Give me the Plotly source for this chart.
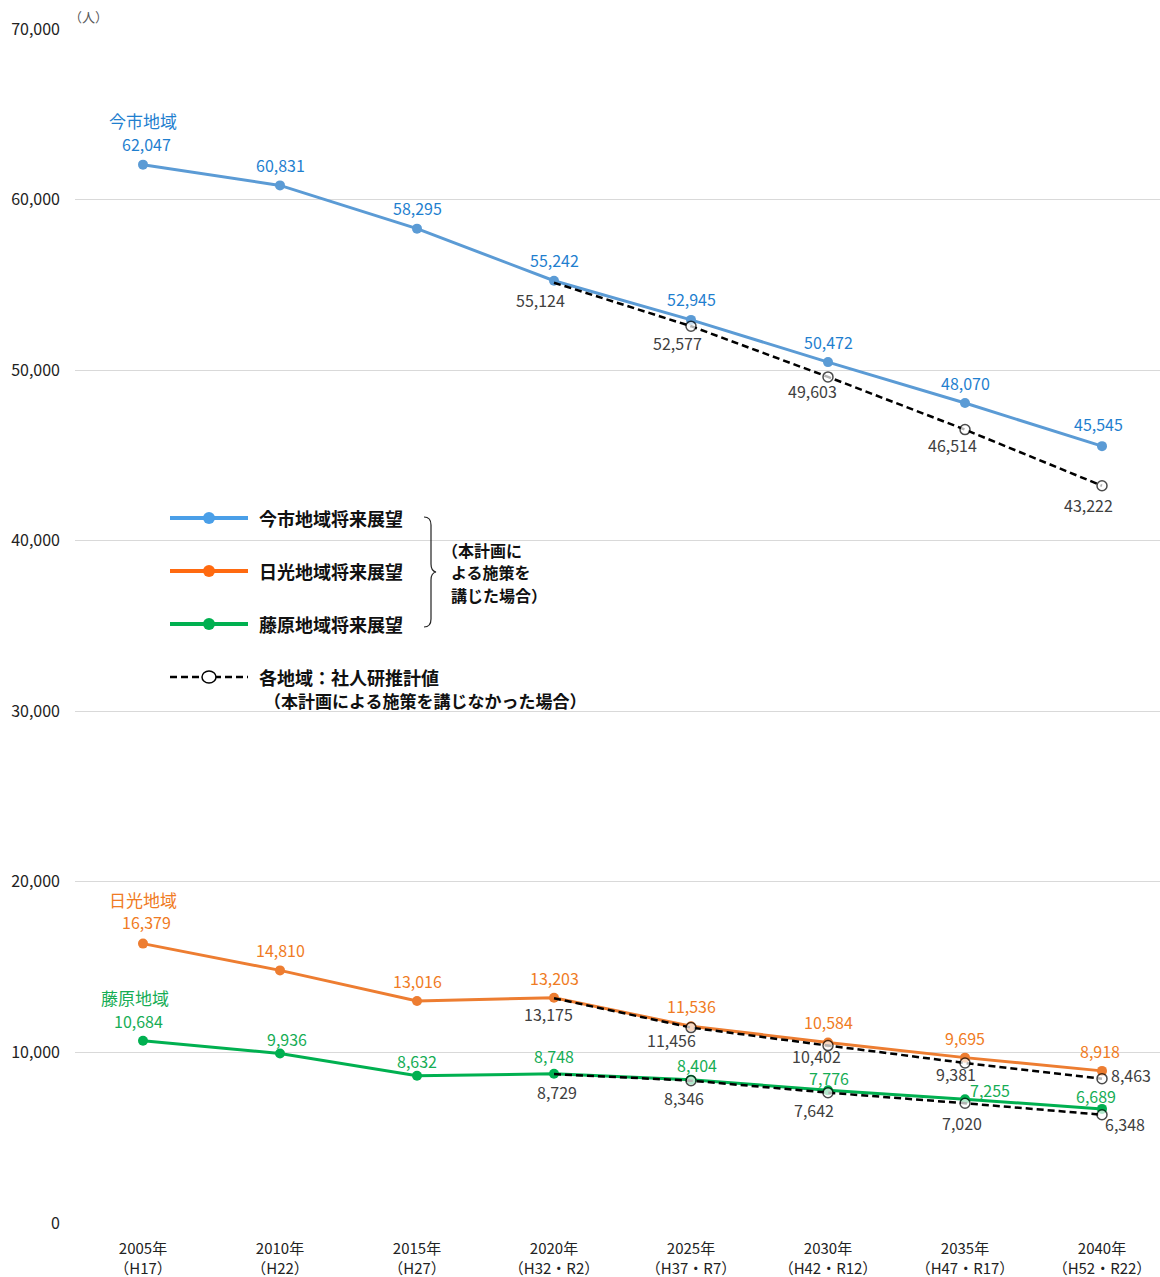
import plotly.graph_objects as go

# ---------------- data ----------------
years = ["2005年", "2010年", "2015年", "2020年", "2025年", "2030年", "2035年", "2040年"]
eras = ["（H17）", "（H22）", "（H27）", "（H32・R2）", "（H37・R7）", "（H42・R12）", "（H47・R17）", "（H52・R22）"]

imaichi = [62047, 60831, 58295, 55242, 52945, 50472, 48070, 45545]
nikko = [16379, 14810, 13016, 13203, 11536, 10584, 9695, 8918]
fujiwara = [10684, 9936, 8632, 8748, 8404, 7776, 7255, 6689]

# 社人研推計値 (2020年〜2040年)
imaichi_ipss = [55124, 52577, 49603, 46514, 43222]
nikko_ipss = [13175, 11456, 10402, 9381, 8463]
fujiwara_ipss = [8729, 8346, 7642, 7020, 6348]

region_names = ["今市地域", "日光地域", "藤原地域"]
legend_names = ["今市地域将来展望", "日光地域将来展望", "藤原地域将来展望"]
ipss_legend = "各地域：社人研推計値"
ipss_legend2 = "（本計画による施策を講じなかった場合）"
brace_text = ["（本計画に", "よる施策を", "講じた場合）"]
y_ticks = [0, 10000, 20000, 30000, 40000, 50000, 60000, 70000]

# ---------------- styles / positions ----------------
FONT = "Noto Sans CJK JP"
line_cols = ["#5B9BD5", "#ED7D31", "#00B050"]
text_cols = ["#1F7FCF", "#F07B23", "#16AD55"]
legend_cols = ["#4A9FE8", "#FF6A10", "#00B050"]
gray_txt = "#404040"

# label offsets in pixels (dx, dy up)
solid_off = [
    [(3, 21), (0, 20), (0, 21), (0, 21), (0, 21), (0, 20), (0, 20), (-4, 22)],
    [(3, 22), (0, 20), (0, 20), (0, 20), (0, 20), (0, 20), (0, 20), (-2, 20)],
    [(-5, 20), (7, 15), (0, 15), (0, 18), (6, 15), (1, 12), (25, 9), (-6, 13)],
]
ipss_off = [
    [(-14, -17), (-14, -17), (-16, -14), (-13, -15), (-14, -19)],
    [(-6, -16), (-20, -12), (-12, -10), (-9, -11), (29, 4)],
    [(3, -18), (-7, -17), (-14, -17), (-3, -20), (23, -9)],
]
name_off = [(0, 44), (0, 44), (-8, 43)]

W, H = 1160, 1277
L, R, T, B = 75, 0, 29, 54
PW, PH = W - L - R, H - T - B


def xp(X):
    return (X - L) / PW


def yp(Y):
    return (H - B - Y) / PH


xs = list(range(len(years)))
solids = [imaichi, nikko, fujiwara]
ipss = [imaichi_ipss, nikko_ipss, fujiwara_ipss]
ipss_x = xs[3:]

fig = go.Figure()

for i, s in enumerate(solids):
    fig.add_trace(go.Scatter(
        x=xs, y=s, mode="lines+markers", name=legend_names[i],
        line=dict(color=line_cols[i], width=3),
        marker=dict(color=line_cols[i], size=10),
        showlegend=False, hoverinfo="skip"))

for i, s in enumerate(ipss):
    fig.add_trace(go.Scatter(
        x=ipss_x, y=s, mode="lines+markers", name=ipss_legend,
        line=dict(color="black", width=2.5, dash="7px,4px"),
        marker=dict(color="white", size=[0] + [10] * (len(s) - 1),
                    line=dict(color="black", width=1.5)),
        showlegend=False, hoverinfo="skip"))

ann = []
for i, s in enumerate(solids):
    for j, v in enumerate(s):
        dx, dy = solid_off[i][j]
        ann.append(dict(x=xs[j], y=v, text=f"{v:,}", showarrow=False,
                        xshift=dx, yshift=dy, xanchor="center", yanchor="middle",
                        font=dict(family=FONT, size=16, color=text_cols[i])))
    dx, dy = name_off[i]
    ann.append(dict(x=xs[0], y=s[0], text=region_names[i], showarrow=False,
                    xshift=dx, yshift=dy, xanchor="center", yanchor="middle",
                    font=dict(family=FONT, size=17, color=text_cols[i])))

for i, s in enumerate(ipss):
    for j, v in enumerate(s):
        dx, dy = ipss_off[i][j]
        ann.append(dict(x=ipss_x[j], y=v, text=f"{v:,}", showarrow=False,
                        xshift=dx, yshift=dy, xanchor="center", yanchor="middle",
                        font=dict(family=FONT, size=16, color=gray_txt)))

# unit label
ann.append(dict(x=xp(67), y=yp(17), xref="paper", yref="paper", text="（人）",
                showarrow=False, xanchor="left", yanchor="middle",
                font=dict(family=FONT, size=13, color="#595959")))

# ---------------- custom legend ----------------
shapes = []
leg_y = [518, 571, 624]
for i, name in enumerate(legend_names):
    shapes.append(dict(type="line", xref="paper", yref="paper",
                       x0=xp(170), x1=xp(248), y0=yp(leg_y[i]), y1=yp(leg_y[i]),
                       line=dict(color=legend_cols[i], width=4)))
    shapes.append(dict(type="circle", xref="paper", yref="paper",
                       xsizemode="pixel", ysizemode="pixel",
                       xanchor=xp(209), yanchor=yp(leg_y[i]),
                       x0=-6, x1=6, y0=-6, y1=6,
                       fillcolor=legend_cols[i], line=dict(color=legend_cols[i], width=0)))
    ann.append(dict(x=xp(257), y=yp(leg_y[i]), xref="paper", yref="paper",
                    text=f"<b>{name}</b>",
                    showarrow=False, xanchor="left", yanchor="middle",
                    font=dict(family=FONT, size=18, color="#111111")))

# dashed legend
shapes.append(dict(type="line", xref="paper", yref="paper",
                   x0=xp(170), x1=xp(248), y0=yp(677), y1=yp(677),
                   line=dict(color="black", width=2.5, dash="7px,4px")))
shapes.append(dict(type="circle", xref="paper", yref="paper",
                   xsizemode="pixel", ysizemode="pixel",
                   xanchor=xp(209), yanchor=yp(677),
                   x0=-7, x1=7, y0=-6, y1=6,
                   fillcolor="white", line=dict(color="black", width=1.5)))
ann.append(dict(x=xp(257), y=yp(677), xref="paper", yref="paper",
                text=f"<b>{ipss_legend}</b>",
                showarrow=False, xanchor="left", yanchor="middle",
                font=dict(family=FONT, size=18, color="#111111")))
ann.append(dict(x=xp(262), y=yp(700), xref="paper", yref="paper",
                text=f"<b>{ipss_legend2}</b>",
                showarrow=False, xanchor="left", yanchor="middle",
                font=dict(family=FONT, size=17, color="#111111")))

# brace
def P(X, Y):
    return f"{xp(X):.5f},{yp(Y):.5f}"

brace = ("M " + P(424, 517) + " Q " + P(431, 517) + " " + P(431, 525)
         + " L " + P(431, 564) + " Q " + P(431, 571) + " " + P(436, 572)
         + " Q " + P(431, 573) + " " + P(431, 580)
         + " L " + P(431, 619) + " Q " + P(431, 627) + " " + P(424, 627))
shapes.append(dict(type="path", xref="paper", yref="paper", path=brace,
                   line=dict(color="#222222", width=1.2)))
brace_pos = [(440, 549.5), (449, 572), (449, 594.5)]
for t, (bx, by) in zip(brace_text, brace_pos):
    ann.append(dict(x=xp(bx), y=yp(by), xref="paper", yref="paper",
                    text=f"<b>{t}</b>",
                    showarrow=False, xanchor="left", yanchor="middle",
                    font=dict(family=FONT, size=16, color="#111111")))

fig.update_layout(
    width=W, height=H,
    margin=dict(l=L, r=R, t=T, b=B, pad=0, autoexpand=False),
    paper_bgcolor="white", plot_bgcolor="white",
    font=dict(family=FONT, color="#222222"),
    xaxis=dict(range=[(L - 143) / 137, (W - R - 143) / 137],
               tickvals=xs, ticktext=[f"{a}<br>{b}" for a, b in zip(years, eras)],
               showgrid=False, zeroline=False, showline=False, ticks="",
               automargin=False, ticklabelstandoff=15,
               tickfont=dict(family=FONT, size=15, color="#222222")),
    yaxis=dict(range=[0, 70000], tickvals=y_ticks,
               ticktext=[f"{v:,}" for v in y_ticks],
               showgrid=True, gridcolor="#D9D9D9", gridwidth=1,
               zeroline=False, showline=False, ticks="",
               automargin=False, ticklabelstandoff=14,
               tickfont=dict(family=FONT, size=16, color="#222222")),
    annotations=ann, shapes=shapes, showlegend=False,
)

fig.write_html("out.html")
